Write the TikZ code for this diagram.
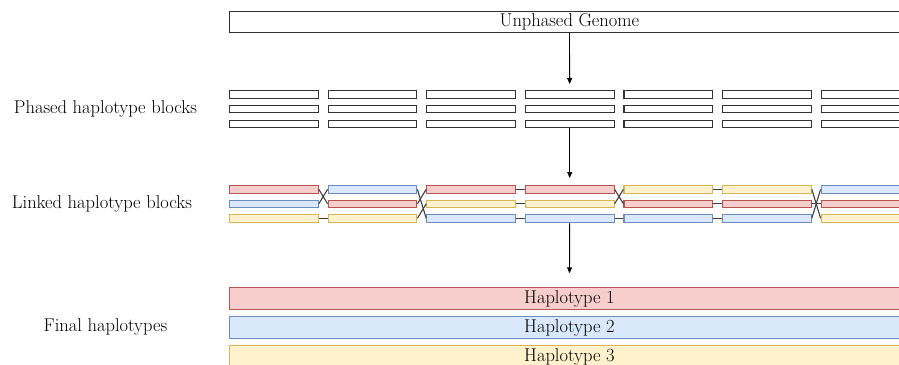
\documentclass[tikz,border=0pt]{standalone}
\usepackage{xcolor}
\usepackage{tikz}
\usetikzlibrary{arrows.meta, positioning}

\definecolor{redF}{HTML}{F8CECC}
\definecolor{redD}{HTML}{B85450}
\definecolor{blueF}{HTML}{DAE8FC}
\definecolor{blueD}{HTML}{6C8EBF}
\definecolor{yellowF}{HTML}{FFF2CC}
\definecolor{yellowD}{HTML}{D6B656}

\begin{document}
\begin{tikzpicture}[
  x=1pt, y=-1pt,
  txt/.style={font=\fontsize{18.5}{22}\selectfont},
  bigbox/.style={draw=black!80, fill=white, line width=0.9pt, txt,
                 minimum width=680pt, minimum height=21.7pt, inner sep=0pt,
                 anchor=north west},
  hap/.style={bigbox, draw=#1D, fill=#1F},
  pblock/.style={draw=black!80, fill=white, line width=1.1pt,
                 minimum width=88.7pt, minimum height=7.5pt, inner sep=0pt,
                 anchor=north west},
  lblock/.style={pblock, draw=#1D, fill=#1F},
  link/.style={black!75, line width=1.1pt},
  arr/.style={-{Triangle[length=6pt, width=5pt]}, line width=0.9pt},
  lab/.style={txt},
]
\useasboundingbox (0,0) rectangle (899,364);
\clip (0,0) rectangle (899,364);

% ---- Unphased genome -------------------------------------------------------
\node[bigbox] (genome) at (229, 10.5) {Unphased Genome};

% ---- Phased blocks ---------------------------------------------------------
\node[lab] (phasedlab) at (105.5, 108.75) {Phased haplotype blocks};
\foreach \c in {1,...,7} {
  \foreach \r in {1,2,3} {
    \node[pblock] (p-\c-\r) at ({229+(\c-1)*98.6}, {90+(\r-1)*14.75}) {};
  }
}

% ---- Linked blocks ---------------------------------------------------------
\node[lab] (linkedlab) at (102, 203.5) {Linked haplotype blocks};
\foreach \c/\ra/\rb/\rc in {1/red/blue/yellow, 2/blue/red/yellow,
    3/red/yellow/blue, 4/red/yellow/blue, 5/yellow/red/blue,
    6/yellow/red/blue, 7/blue/red/yellow} {
  \node[lblock/.expanded=\ra] (l-\c-\ra) at ({229+(\c-1)*98.6}, 185) {};
  \node[lblock/.expanded=\rb] (l-\c-\rb) at ({229+(\c-1)*98.6}, 199.5) {};
  \node[lblock/.expanded=\rc] (l-\c-\rc) at ({229+(\c-1)*98.6}, 214) {};
}
\foreach \c [evaluate=\c as \n using int(\c+1)] in {1,...,6} {
  \foreach \k in {red,blue,yellow} {
    \draw[link] (l-\c-\k.east) -- (l-\n-\k.west);
  }
}

% ---- Final haplotypes ------------------------------------------------------
\node[lab] (finallab) at (105.5, 327) {Final haplotypes};
\node[hap=red]    (hap1) at (229, 287.3) {Haplotype 1};
\node[hap=blue]   (hap2) at (229, 316.3) {Haplotype 2};
\node[hap=yellow] (hap3) at (229, 345.3) {Haplotype 3};

% ---- Arrows ----------------------------------------------------------------
\draw[arr, shorten >=6pt]  (genome.south) -- (p-4-1.north);
\draw[arr, shorten >=7pt]  (p-4-3.south) -- (l-4-red.north);
\draw[arr, shorten >=14pt] (l-4-blue.south) -- (hap1.north);

\end{tikzpicture}
\end{document}
